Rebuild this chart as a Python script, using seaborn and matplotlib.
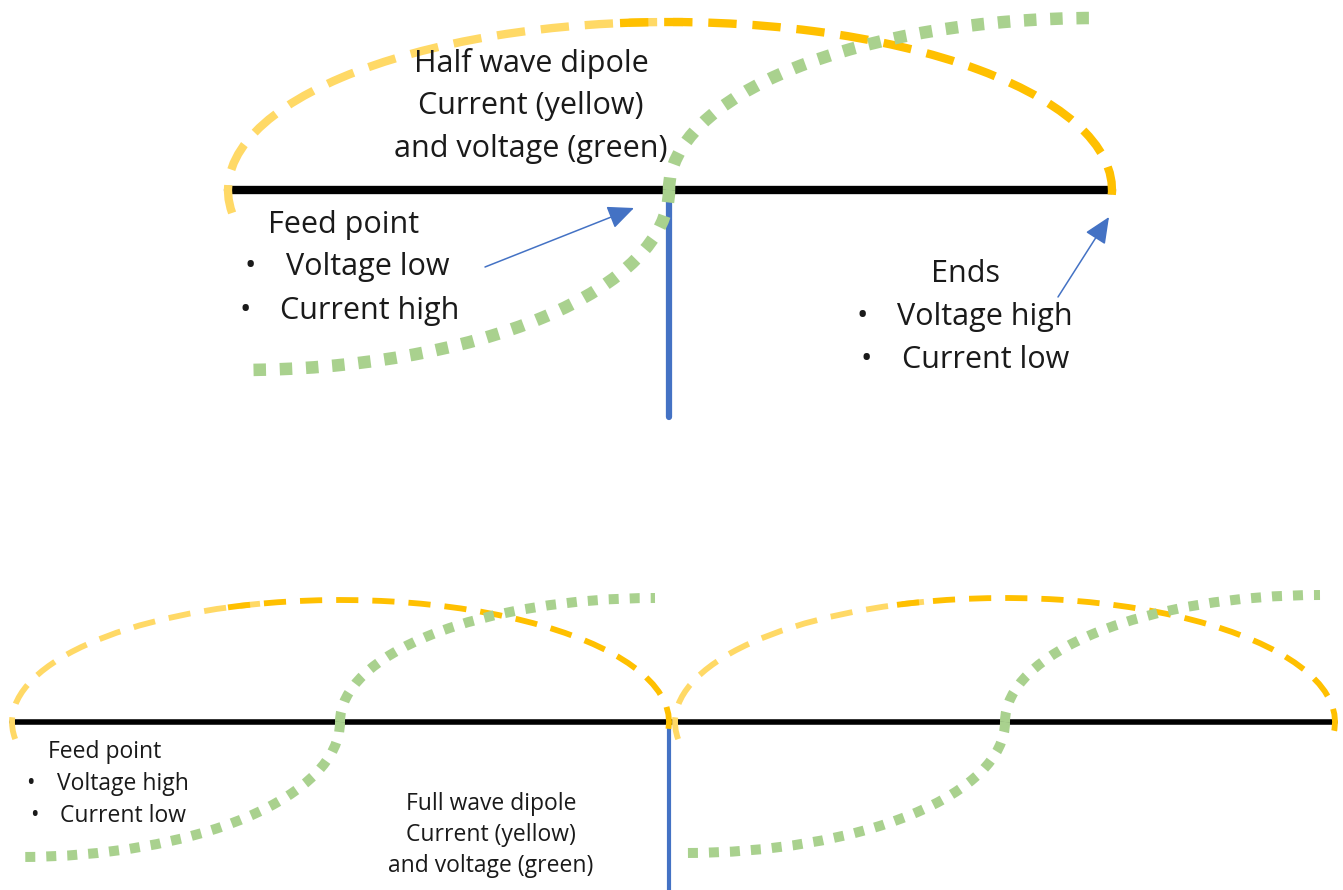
import numpy as np
import pandas as pd
import seaborn as sns
import matplotlib.pyplot as plt
from matplotlib.patches import Arc

# picture is laid out in pixel units, y grows downward
W, H = 1343, 890

# wires: half wave (top) and full wave (bottom)
wire_y = [190, 722]
wire_left = [228, 12]
wire_right = [1112, 1335]
feed_x = [669, 669]
feed_bottom = [417, 890]

# current lobes (yellow)
cur_left = [228, 12, 675]
cur_right = [1112, 669, 1335]
cur_top = [22, 600, 598]
cur_row = [0, 1, 1]
cur_light_end = [683, 260, 927]
cur_dark_start = [620, 228, 897]

# voltage waves (green): start, zero crossing, end
volt_x0 = [240, 20, 685]
volt_y0 = [370, 857, 853]
volt_xc = [669, 340, 1005]
volt_x1 = [1095, 655, 1320]
volt_y1 = [18, 598, 595]
volt_row = [0, 1, 1]

# arrows (tail, head)
arrow_tail = [(485, 267), (1058, 297)]
arrow_head = [(634, 208), (1109, 217)]

title_top = ["Half wave dipole", "Current (yellow)", "and voltage (green)"]
title_bottom = ["Full wave dipole", "Current (yellow)", "and voltage (green)"]
feed_top = ["Feed point", "Voltage low", "Current high"]
ends_top = ["Ends", "Voltage high", "Current low"]
feed_bottom_txt = ["Feed point", "Voltage high", "Current low"]

BLACK = "#000000"
BLUE = "#4472C4"
YEL_LIGHT = "#FFD966"
YEL_DARK = "#FFC000"
GREEN = "#A9D18E"

sns.set_theme(style="white")
plt.rcParams["font.family"] = ["Open Sans", "DejaVu Sans"]

fig = plt.figure(figsize=(W / 100, H / 100), dpi=100)
ax = fig.add_axes([0, 0, 1, 1])
ax.set_xlim(0, W)
ax.set_ylim(H, 0)
ax.axis("off")

# wires + feed lines
wires = pd.DataFrame({
    "x": wire_left + wire_right,
    "y": wire_y + wire_y,
    "wire": ["top", "bottom"] * 2,
})
for name, lw in [("top", 6), ("bottom", 4)]:
    sns.lineplot(data=wires[wires.wire == name], x="x", y="y", color=BLACK,
                 lw=lw, ax=ax, sort=False, estimator=None, legend=False, zorder=2)
feeds = pd.DataFrame({
    "x": feed_x + feed_x,
    "y": wire_y + feed_bottom,
    "feed": ["top", "bottom"] * 2,
})
for name, lw in [("top", 4.5), ("bottom", 3)]:
    sns.lineplot(data=feeds[feeds.feed == name], x="x", y="y", color=BLUE,
                 lw=lw, ax=ax, sort=False, estimator=None, legend=False, zorder=2)


def geo_angle(cx, a, b, x):
    # angle of the upper point of the ellipse at horizontal position x
    t = 2 * np.pi - np.arccos(np.clip((x - cx) / a, -1, 1))
    return np.degrees(np.arctan2(b * np.sin(t), a * np.cos(t))) % 360


# yellow current lobes
for i in range(len(cur_left)):
    yl = wire_y[cur_row[i]]
    cx = (cur_left[i] + cur_right[i]) / 2
    a = (cur_right[i] - cur_left[i]) / 2
    b = yl - cur_top[i]
    lw = 6 if cur_row[i] == 0 else 4.2
    dash = (0, (3.4, 1.9)) if cur_row[i] == 0 else (0, (3.8, 2.4))
    t_light = geo_angle(cx, a, b, cur_light_end[i])
    t_dark = geo_angle(cx, a, b, cur_dark_start[i])
    ax.add_patch(Arc((cx, yl), 2 * a, 2 * b, theta1=177, theta2=t_light,
                     color=YEL_LIGHT, lw=lw, linestyle=dash, zorder=3))
    ax.add_patch(Arc((cx, yl), 2 * a, 2 * b, theta1=t_dark, theta2=362,
                     color=YEL_DARK, lw=lw, linestyle=dash, zorder=3))

# green voltage waves
for i in range(len(volt_x0)):
    yl = wire_y[volt_row[i]]
    lw = 9 if volt_row[i] == 0 else 7.2
    dash = (0, (1, 1.1)) if volt_row[i] == 0 else (0, (1, 1.1))
    ax.add_patch(Arc((volt_x0[i], yl), 2 * (volt_xc[i] - volt_x0[i]),
                     2 * (volt_y0[i] - yl), theta1=0, theta2=90,
                     color=GREEN, lw=lw, linestyle=dash, zorder=4))
    ax.add_patch(Arc((volt_x1[i], yl), 2 * (volt_x1[i] - volt_xc[i]),
                     2 * (yl - volt_y1[i]), theta1=180, theta2=270,
                     color=GREEN, lw=lw, linestyle=dash, zorder=4))

# arrows
for tail, head in zip(arrow_tail, arrow_head):
    ax.annotate("", xy=head, xytext=tail,
                arrowprops=dict(arrowstyle="-|>,head_length=0.9,head_width=0.4",
                                color=BLUE, lw=1.1, mutation_scale=18,
                                shrinkA=0, shrinkB=0))

# text
tc = "#1a1a1a"
big, small = 22, 16.5
for s, yb in zip(title_top, [72, 114, 157]):
    ax.text(531, yb, s, fontsize=big, ha="center", va="baseline", color=tc)
ax.text(268, 233, feed_top[0], fontsize=big, ha="left", va="baseline", color=tc)
ax.text(250, 275, "\u2022", fontsize=big, ha="center", va="baseline", color=tc)
ax.text(286, 275, feed_top[1], fontsize=big, ha="left", va="baseline", color=tc)
ax.text(245, 319, "\u2022", fontsize=big, ha="center", va="baseline", color=tc)
ax.text(280, 319, feed_top[2], fontsize=big, ha="left", va="baseline", color=tc)

ax.text(966, 282, ends_top[0], fontsize=big, ha="center", va="baseline", color=tc)
ax.text(862, 325, "\u2022", fontsize=big, ha="center", va="baseline", color=tc)
ax.text(897, 325, ends_top[1], fontsize=big, ha="left", va="baseline", color=tc)
ax.text(866, 368, "\u2022", fontsize=big, ha="center", va="baseline", color=tc)
ax.text(902, 368, ends_top[2], fontsize=big, ha="left", va="baseline", color=tc)

ax.text(48, 758, feed_bottom_txt[0], fontsize=small, ha="left", va="baseline", color=tc)
ax.text(30, 790, "\u2022", fontsize=small, ha="center", va="baseline", color=tc)
ax.text(57, 790, feed_bottom_txt[1], fontsize=small, ha="left", va="baseline", color=tc)
ax.text(34, 822, "\u2022", fontsize=small, ha="center", va="baseline", color=tc)
ax.text(60, 822, feed_bottom_txt[2], fontsize=small, ha="left", va="baseline", color=tc)

for s, yb in zip(title_bottom, [810, 841, 872]):
    ax.text(491, yb, s, fontsize=small, ha="center", va="baseline", color=tc)

fig.savefig("out.png", dpi=100, facecolor="white")
